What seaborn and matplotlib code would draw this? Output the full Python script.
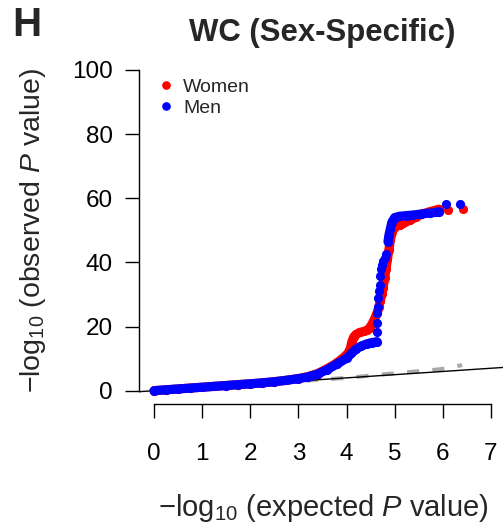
import matplotlib
matplotlib.use("Agg")
import matplotlib.pyplot as plt
import seaborn as sns
from matplotlib.lines import Line2D

# ---- data ----
women_band_x = [0.0, 0.25, 0.5, 0.75, 1.0, 1.25, 1.5, 1.75, 2.0, 2.25, 2.5, 2.75, 3.0, 3.2, 3.4,
                3.6, 3.75, 3.86, 3.95, 4.03, 4.08, 4.11, 4.15, 4.2, 4.28, 4.36, 4.42, 4.48, 4.53,
                4.58, 4.63, 4.67, 4.70, 4.73, 4.76, 4.79, 4.82, 4.85, 4.88, 4.91, 4.95, 5.0, 5.1,
                5.18, 5.32, 5.45, 5.55, 5.7, 5.8, 5.92]
women_band_y = [0.0, 0.28, 0.55, 0.82, 1.08, 1.35, 1.62, 1.9, 2.15, 2.45, 2.8, 3.25, 3.8, 4.4, 5.35,
                6.9, 8.2, 9.4, 10.5, 11.7, 13.2, 15.3, 16.8, 17.6, 18.2, 18.5, 18.8, 19.6, 20.8,
                22.3, 24.1, 26.0, 28.0, 30.0, 32.0, 35.0, 38.0, 41.0, 44.0, 47.0, 49.6, 51.0, 51.8,
                52.2, 53.2, 54.2, 55.0, 55.7, 56.1, 56.6]
women_top_x = [6.11, 6.41]
women_top_y = [56.4, 56.7]

men_band_x = [0.0, 0.25, 0.5, 0.75, 1.0, 1.25, 1.5, 1.75, 2.0, 2.25, 2.5, 2.75, 3.0, 3.2, 3.4,
              3.6, 3.8, 4.0, 4.1, 4.2, 4.3, 4.42, 4.52, 4.63]
men_band_y = [0.0, 0.28, 0.55, 0.82, 1.08, 1.35, 1.62, 1.9, 2.15, 2.45, 2.8, 3.25, 3.75, 4.3, 5.2,
              6.6, 8.3, 10.1, 11.6, 13.0, 13.9, 14.6, 15.0, 15.3]
men_mid_x = [4.63, 4.63, 4.64, 4.65, 4.66, 4.68, 4.69, 4.70, 4.72, 4.74, 4.76, 4.79, 4.82]
men_mid_y = [18.4, 21.0, 24.1, 26.0, 28.8, 31.0, 33.0, 35.8, 38.0, 39.2, 40.3, 41.5, 42.6]
men_upper_x = [4.86, 4.88, 4.91, 4.94, 5.0, 5.1, 5.25, 5.39, 5.55, 5.73, 5.85, 5.93]
men_upper_y = [46.5, 48.5, 50.5, 52.5, 54.0, 54.4, 54.6, 54.8, 55.1, 55.4, 55.6, 55.8]
men_top_x = [6.07, 6.36]
men_top_y = [58.1, 58.1]

ci_x = [0.0, 4.09, 4.6, 5.18, 5.57, 5.88, 6.1, 6.4]
ci_y = [0.0, 4.1, 4.9, 5.62, 6.2, 6.6, 7.0, 8.0]

x_ticks = [0, 1, 2, 3, 4, 5, 6, 7]
y_ticks = [0, 20, 40, 60, 80, 100]
series_names = ["Women", "Men"]
series_colors = ["#FF0000", "#0000FF"]

# ---- style ----
sns.set_style("white")
plt.rcParams["font.family"] = ["Liberation Sans", "DejaVu Sans"]
plt.rcParams["mathtext.fontset"] = "custom"
plt.rcParams["mathtext.rm"] = "Liberation Sans"
plt.rcParams["mathtext.it"] = "Liberation Sans:italic"

W, H = 503, 531
fig = plt.figure(figsize=(W / 100, H / 100), dpi=100)
ax_l, ax_r, ax_t, ax_b = 139, 503, 57, 404
ax = fig.add_axes([ax_l / W, 1 - ax_b / H, (ax_r - ax_l) / W, (ax_b - ax_t) / H])

px_x = 48.14
px_y = 3.207
ax.set_xlim((ax_l - 154) / px_x, (ax_r - 154) / px_x)
ax.set_ylim((390.7 - ax_b) / px_y, (390.7 - ax_t) / px_y)

# reference lines
ax.axline((0, 0), slope=1, color="black", lw=1.0, zorder=2)
sns.lineplot(x=ci_x, y=ci_y, ax=ax, color="#A8A8A8", lw=2.9, zorder=1,
             linestyle=(0, (3.0, 3.3)), sort=False)

msz = 6.6  # marker diameter in points
s = msz ** 2

def band(xs, ys, color, z):
    sns.lineplot(x=xs, y=ys, ax=ax, color=color, lw=msz, sort=False, zorder=z,
                 solid_capstyle="round", solid_joinstyle="round")
    sns.scatterplot(x=xs, y=ys, ax=ax, color=color, s=s, linewidth=0, zorder=z)

def pts(xs, ys, color, z):
    sns.scatterplot(x=xs, y=ys, ax=ax, color=color, s=s, linewidth=0, zorder=z)

band(women_band_x, women_band_y, series_colors[0], 3)
pts(women_top_x, women_top_y, series_colors[0], 3)
band(men_band_x, men_band_y, series_colors[1], 4)
pts(men_mid_x, men_mid_y, series_colors[1], 4)
band(men_upper_x, men_upper_y, series_colors[1], 4)
pts(men_top_x, men_top_y, series_colors[1], 4)

# axes styling (R-like)
for sp in ["top", "right"]:
    ax.spines[sp].set_visible(False)
ax.spines["left"].set_bounds(0, 100)
ax.spines["bottom"].set_bounds(0, 7)
for sp in ["left", "bottom"]:
    ax.spines[sp].set_linewidth(1.0)
    ax.spines[sp].set_color("black")
ax.set_xticks(x_ticks)
ax.set_yticks(y_ticks)
ax.tick_params(axis="both", direction="out", length=10, width=1.0, color="black",
               labelsize=17.5, labelcolor="black")
ax.tick_params(axis="x", pad=18, bottom=True)
ax.tick_params(axis="y", pad=9, left=True)
ax.grid(False)

# legend
handles = [Line2D([], [], marker="o", ls="", color=c, markersize=5.2) for c in series_colors]
leg = ax.legend(handles, series_names, loc="upper left", frameon=False,
                bbox_to_anchor=(158 / W, 1 - 78 / H), bbox_transform=fig.transFigure,
                fontsize=14, handlelength=0.8, handletextpad=0.49, labelspacing=0.2,
                borderpad=0, borderaxespad=0)

# texts
fig.text(322.5 / W, 1 - 33 / H, "WC (Sex-Specific)", ha="center", va="center",
         fontsize=22.4, fontweight="bold")
fig.text(12 / W, 1 - 25 / H, "H", ha="left", va="center", fontsize=29, fontweight="bold")
fig.text(33 / W, 1 - 230 / H, r"$-\mathrm{log}_{10}$ (observed $P$ value)", rotation=90,
         ha="center", va="center", fontsize=20.5)
fig.text(323 / W, 1 - 508 / H, r"$-\mathrm{log}_{10}$ (expected $P$ value)",
         ha="center", va="center", fontsize=21)

fig.savefig("out.png", dpi=100)
